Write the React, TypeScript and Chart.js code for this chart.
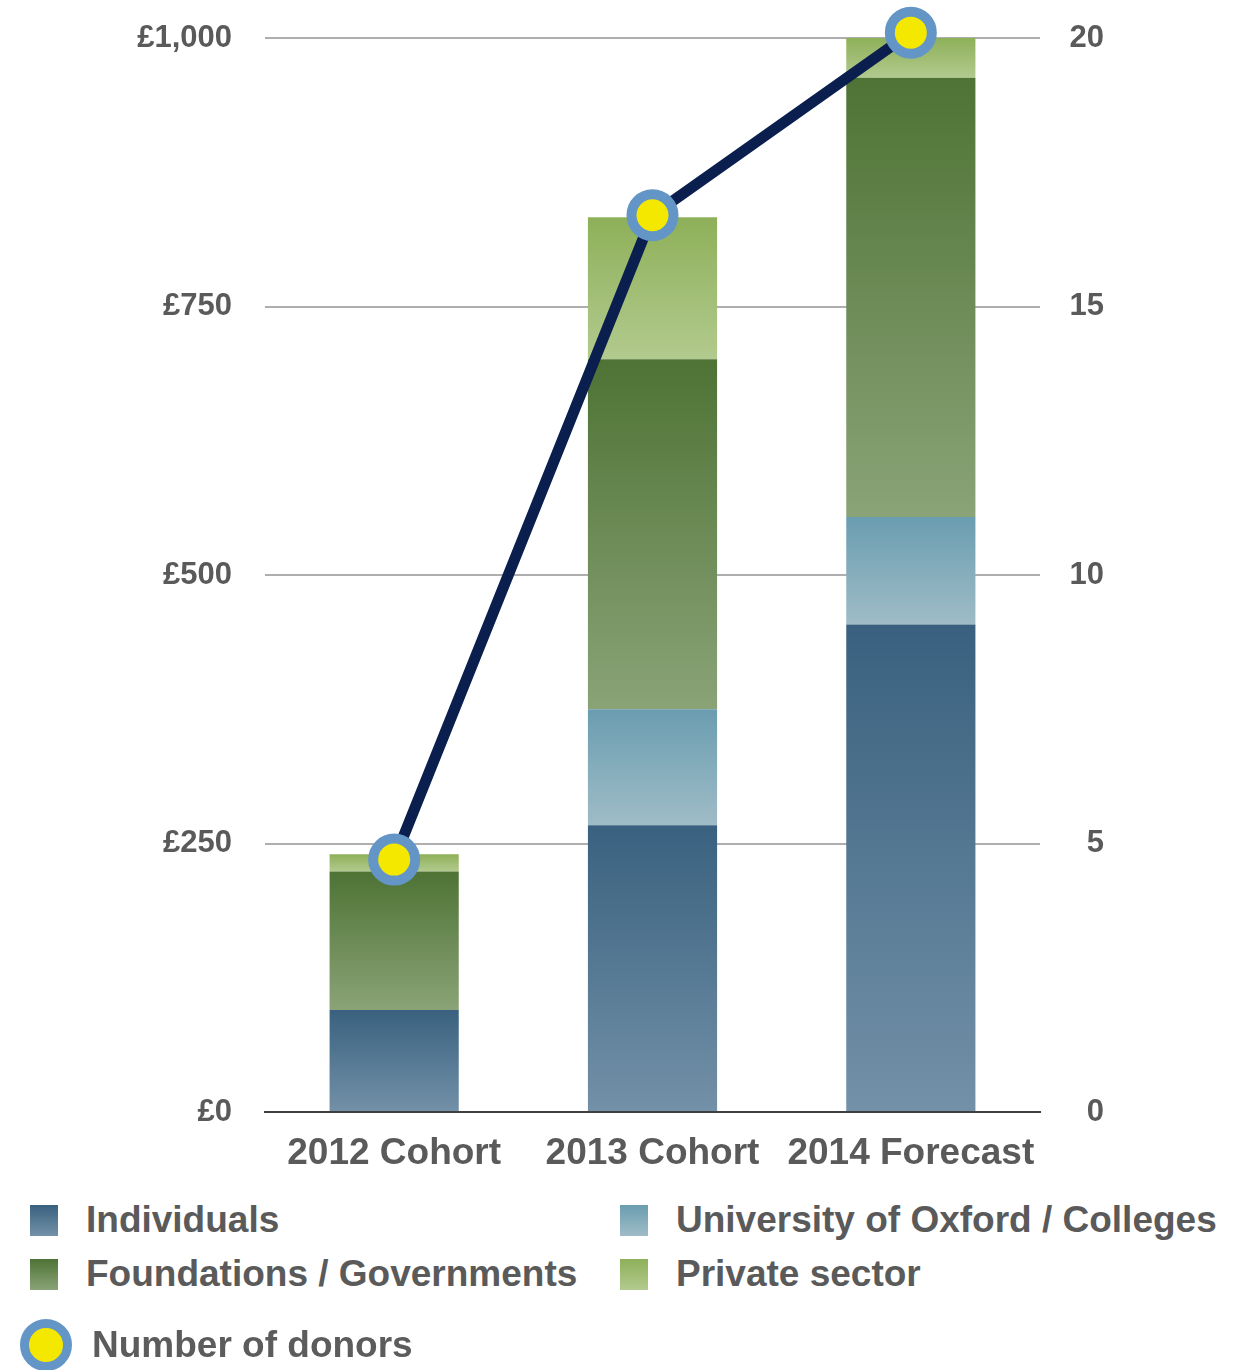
import React, { useEffect, useRef } from "react";
import { Chart, registerables } from "chart.js";

Chart.register(...registerables);

const categories = ["2012 Cohort", "2013 Cohort", "2014 Forecast"];
const individuals = [95, 267, 454];
const university = [0, 108, 100];
const foundations = [129, 326, 409];
const privateSector = [16, 132, 37];
const donors = [4.7, 16.7, 20.1];

const seriesNames = ["Individuals", "University of Oxford / Colleges", "Foundations / Governments", "Private sector"];
const seriesValues = [individuals, university, foundations, privateSector];
const seriesColors: [string, string][] = [
  ["#39617f", "#7391a8"],
  ["#6a9db0", "#9fbcc7"],
  ["#4e7335", "#8aa377"],
  ["#8eb059", "#b2ca8e"],
];

const leftTicks = ["£0", "£250", "£500", "£750", "£1,000"];
const FONT = "'Liberation Sans', Arial, Helvetica, sans-serif";
const TEXT = "#5a5a5a";

export default function App() {
  const ref = useRef<HTMLCanvasElement | null>(null);

  useEffect(() => {
    if (!ref.current) return;
    const makeBg = (si: number) => (ctx: any) => {
      const chart = ctx.chart;
      const y = chart.scales?.y;
      if (!chart.chartArea || !y || ctx.type !== "data") return seriesColors[si][0];
      const i = ctx.dataIndex;
      let base = 0;
      for (let k = 0; k < si; k++) base += seriesValues[k][i];
      const top = base + seriesValues[si][i];
      const yt = y.getPixelForValue(top);
      const yb = y.getPixelForValue(base);
      if (!isFinite(yt) || !isFinite(yb) || Math.abs(yb - yt) < 0.5) return seriesColors[si][0];
      const g = chart.ctx.createLinearGradient(0, yt, 0, yb);
      g.addColorStop(0, seriesColors[si][0]);
      g.addColorStop(1, seriesColors[si][1]);
      return g;
    };

    const chart = new Chart(ref.current, {
      type: "bar",
      data: {
        labels: categories,
        datasets: [
          {
            type: "line",
            label: "Number of donors",
            data: donors,
            yAxisID: "y1",
            order: 0,
            borderColor: "#0b1f4f",
            borderWidth: 11,
            pointRadius: 21,
            pointHoverRadius: 21,
            pointBorderWidth: 10,
            pointBackgroundColor: "#f5e800",
            pointBorderColor: "#6396c6",
            tension: 0,
            clip: false as any,
          } as any,
          ...seriesNames.map((name, si) => ({
            type: "bar" as const,
            label: name,
            data: seriesValues[si],
            yAxisID: "y",
            order: 1,
            backgroundColor: makeBg(si),
            borderWidth: 0,
            barPercentage: 0.5,
            categoryPercentage: 1,
          })),
        ],
      },
      options: {
        animation: false,
        responsive: false,
        devicePixelRatio: 1,
        layout: { autoPadding: false, padding: { top: 38, bottom: 0, left: 0, right: 152 } },
        plugins: { legend: { display: false }, tooltip: { enabled: false } },
        scales: {
          x: {
            stacked: true,
            grid: { display: false, drawTicks: false },
            border: { display: true, color: "#3f3f3f", width: 2 },
            ticks: {
              color: TEXT,
              font: { family: FONT, size: 37, weight: "bold" },
              padding: 20,
              maxRotation: 0,
              minRotation: 0,
              autoSkip: false,
            },
            afterFit: (s: any) => {
              s.height = 1185 - 1112;
              s.paddingLeft = 0;
              s.paddingRight = 0;
            },
          } as any,
          y: {
            stacked: true,
            position: "left",
            min: 0,
            max: 1000,
            ticks: {
              stepSize: 250,
              color: TEXT,
              font: { family: FONT, size: 31, weight: "bold" },
              padding: 33,
              callback: (_v: any, idx: number) => leftTicks[idx],
            },
            grid: { color: "#aeaeae", lineWidth: 2, drawTicks: false },
            border: { display: false },
            afterFit: (s: any) => {
              s.width = 265;
              s.paddingTop = 0;
              s.paddingBottom = 0;
            },
          } as any,
          y1: {
            position: "right",
            min: 0,
            max: 20,
            ticks: {
              stepSize: 5,
              color: TEXT,
              font: { family: FONT, size: 31, weight: "bold" },
              padding: 30,
              crossAlign: "far",
            },
            grid: { display: false, drawTicks: false },
            border: { display: false },
            afterFit: (s: any) => {
              s.width = 64;
              s.paddingTop = 0;
              s.paddingBottom = 0;
            },
          } as any,
        },
      },
    });
    return () => chart.destroy();
  }, []);

  const legendItem = (si: number, left: number, top: number) => (
    <div key={si} style={{ position: "absolute", left, top, height: 40, display: "flex", alignItems: "center" }}>
      <div
        style={{
          width: 28,
          height: 31,
          background: `linear-gradient(${seriesColors[si][0]}, ${seriesColors[si][1]})`,
          marginRight: 28,
        }}
      />
      <span style={{ fontFamily: FONT, fontWeight: "bold", fontSize: 37, color: TEXT, whiteSpace: "nowrap" }}>
        {seriesNames[si]}
      </span>
    </div>
  );

  return (
    <div style={{ position: "absolute", left: 0, top: 0, width: 1256, height: 1370, background: "#fff" }}>
      <canvas ref={ref} width={1256} height={1185} style={{ position: "absolute", left: 0, top: 0, width: 1256, height: 1185 }} />
      {legendItem(0, 30, 1200)}
      {legendItem(1, 620, 1200)}
      {legendItem(2, 30, 1254)}
      {legendItem(3, 620, 1254)}
      <div style={{ position: "absolute", left: 20, top: 1319, display: "flex", alignItems: "center" }}>
        <div
          style={{
            width: 34,
            height: 34,
            borderRadius: "50%",
            background: "#f5e800",
            border: "9px solid #6396c6",
            marginRight: 20,
          }}
        />
        <span style={{ fontFamily: FONT, fontWeight: "bold", fontSize: 37, color: "#5c5c5c", whiteSpace: "nowrap", filter: "blur(0.5px)" }}>
          Number of donors
        </span>
      </div>
    </div>
  );
}
